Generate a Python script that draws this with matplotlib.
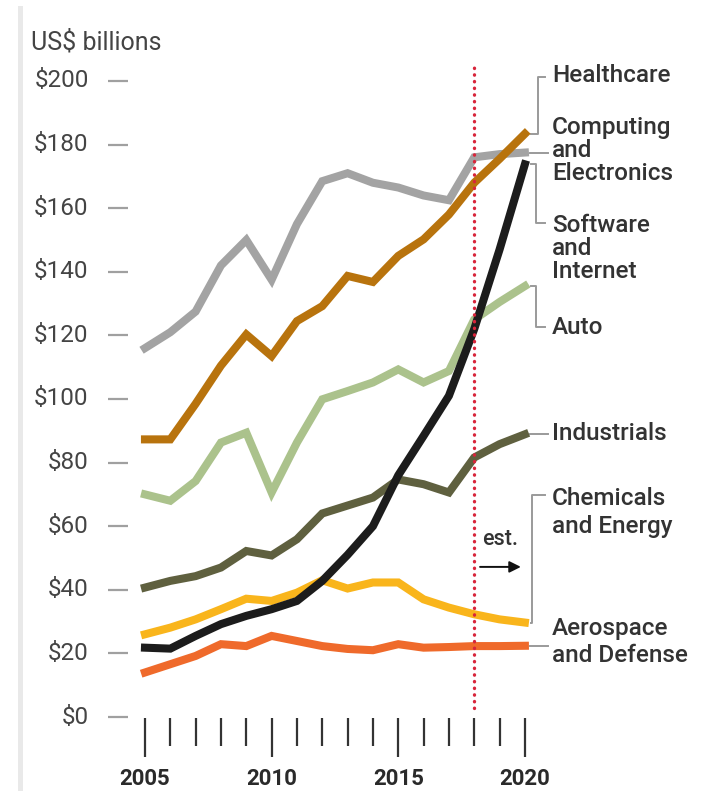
import numpy as np
import matplotlib
matplotlib.use("Agg")
from matplotlib import pyplot as plt
from matplotlib.lines import Line2D

plt.rcParams['font.family'] = ['Roboto', 'DejaVu Sans']

years = list(range(2005, 2021))
computing = [116, 121, 127.5, 142, 150, 137.5, 155, 168.5, 171, 168, 166.5, 164, 162.5, 176, 177, 177.5]
healthcare = [87.3, 87.3, 98.5, 110.5, 120.3, 113.5, 124.5, 129.2, 138.7, 136.8, 145, 150.2, 158, 168, 175.5, 183.4]
auto = [70, 68, 74.2, 86.3, 89.4, 70.6, 86.3, 99.9, 102.5, 105.2, 109.3, 105.2, 108.8, 125, 130.5, 135.5]
industrials = [40.7, 42.8, 44.3, 47, 52.2, 50.8, 55.9, 64, 66.5, 69, 74.7, 73.2, 70.6, 81.6, 85.8, 88.9]
software = [21.8, 21.5, 25.5, 29.2, 31.8, 33.9, 36.5, 42.8, 51, 60, 76, 88.4, 101, 122, 147, 173.8]
chemicals = [26, 28.1, 30.7, 33.9, 37.2, 36.5, 39.1, 43, 40.4, 42.3, 42.3, 37, 34.4, 32.3, 30.7, 29.7]
aerospace = [14, 16.6, 19.2, 22.9, 22.3, 25.5, 23.9, 22.3, 21.4, 21, 22.9, 21.8, 22, 22.3, 22.3, 22.4]

y_ticks = [0, 20, 40, 60, 80, 100, 120, 140, 160, 180, 200]
year_labels = [2005, 2010, 2015, 2020]
est_year = 2018

fig = plt.figure(figsize=(7.07, 7.91), dpi=100)
ax = fig.add_axes([0, 0, 1, 1])
# pixel-ish mapping: 2005 -> x145, 2020 -> x525 ; $0 -> y717, $200 -> y81.7
ax.set_xlim(1999.276, 2027.19)
ax.set_ylim(-23.27, 225.47)
ax.axis("off")

fig.add_artist(Line2D([0.0276, 0.0276], [0, 0.99], color="#e9e9e9", lw=3.6))

lw = 5.8
ax.plot(years, computing, color="#a3a3a3", lw=lw, solid_joinstyle="miter", zorder=2)
ax.plot(years, healthcare, color="#b8730d", lw=lw, solid_joinstyle="miter", zorder=3)
ax.plot(years, auto, color="#abc28c", lw=lw, solid_joinstyle="miter", zorder=2)
ax.plot(years, industrials, color="#5f603f", lw=lw, solid_joinstyle="miter", zorder=3)
ax.plot(years, chemicals, color="#f9b51c", lw=lw, solid_joinstyle="miter", zorder=3)
ax.plot(years, aerospace, color="#ef6a2b", lw=lw, solid_joinstyle="miter", zorder=3)
ax.plot(years, software, color="#1c1c1c", lw=lw, solid_joinstyle="miter", zorder=4)

# estimate line
ax.plot([est_year, est_year], [2.8, 206], color="#d8253b", lw=2.4,
        linestyle=(0, (0.1, 1.9)), dash_capstyle="round", zorder=6)
ax.text(2019.0, 55.7, "est.", fontsize=15.5, fontweight="medium", color="#333333", ha="center", va="center")
ax.annotate("", xy=(2019.95, 47.2), xytext=(2018.12, 47.2),
            arrowprops=dict(arrowstyle="-|>", color="#111111", lw=1.4, mutation_scale=17))

# y axis
for v in y_ticks:
    ax.plot([2003.54, 2004.33], [v, v], color="#a0a0a0", lw=1.6, solid_capstyle="butt")
    ax.text(2002.78, v, "${}".format(v), fontsize=17.5, color="#444444", ha="right", va="center")
ax.text(2000.5, 212.3, "US$ billions", fontsize=18, color="#444444", ha="left", va="center")

# x axis
for yr in years:
    bottom = -12.6 if yr in year_labels else -9.0
    ax.plot([yr, yr], [-0.4, bottom], color="#333333", lw=1.6, solid_capstyle="butt")
for yr in year_labels:
    ax.text(yr, -19.6, str(yr), fontsize=16, fontweight="bold", color="#2a2a2a",
            ha="center", va="center")

# connectors and labels
cc = "#9a9a9a"
clw = 1.4
tx = 2021.08
fs = 17.5
tw = "medium"

ax.plot([2020.25, 2020.5, 2020.5, 2020.8], [healthcare[-1], healthcare[-1], 201.2, 201.2], color=cc, lw=clw)
ax.text(tx, 201.6, "Healthcare", fontsize=fs, fontweight=tw, color="#333333", va="center")

ax.plot([2020.2, 2020.9], [computing[-1], computing[-1]], color=cc, lw=clw)
ax.text(tx, 178.3, "Computing\nand\nElectronics", fontsize=fs, fontweight=tw, color="#333333", va="center", linespacing=1.0)

ax.plot([2020.25, 2020.45, 2020.45, 2020.8], [software[-1], software[-1], 155.3, 155.3], color=cc, lw=clw)
ax.text(tx, 147.4, "Software\nand\nInternet", fontsize=fs, fontweight=tw, color="#333333", va="center", linespacing=1.0)

ax.plot([2020.25, 2020.45, 2020.45, 2020.8], [auto[-1], auto[-1], 122.6, 122.6], color=cc, lw=clw)
ax.text(tx, 122.6, "Auto", fontsize=fs, fontweight=tw, color="#333333", va="center")

ax.plot([2020.2, 2020.9], [industrials[-1], industrials[-1]], color=cc, lw=clw)
ax.text(tx, 89.3, "Industrials", fontsize=fs, fontweight=tw, color="#333333", va="center")

ax.plot([2020.25, 2020.3, 2020.3, 2020.8], [chemicals[-1], chemicals[-1], 69.8, 69.8], color=cc, lw=clw)
ax.text(tx, 64.4, "Chemicals\nand Energy", fontsize=fs, fontweight=tw, color="#333333", va="center", linespacing=1.26)

ax.plot([2020.2, 2020.9], [aerospace[-1], aerospace[-1]], color=cc, lw=clw)
ax.text(tx, 23.6, "Aerospace\nand Defense", fontsize=fs, fontweight=tw, color="#333333", va="center", linespacing=1.18)

plt.savefig("out.png", dpi=100)
